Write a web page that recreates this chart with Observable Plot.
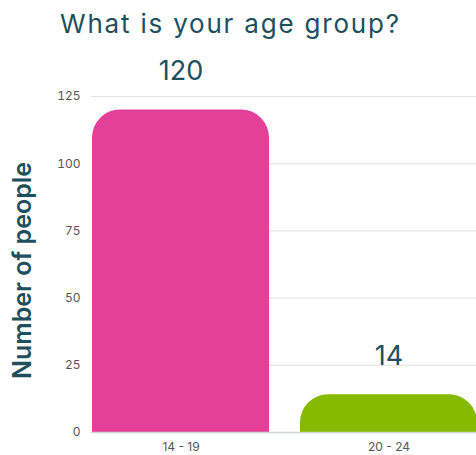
<!DOCTYPE html>
<html>
<head>
<meta charset="utf-8">
<script src="https://cdn.jsdelivr.net/npm/d3@7"></script>
<script src="https://cdn.jsdelivr.net/npm/@observablehq/plot@0.6"></script>
<style>
  html, body { margin: 0; padding: 0; background: #fff; }
  #title { height: 50px; box-sizing: border-box; padding: 8px 0 0 60px; font-family: Inter, "Open Sans", sans-serif; font-size: 26px; letter-spacing: 1.8px; color: #1d4f5d; white-space: nowrap; }
  svg { display: block; }
</style>
</head>
<body>
<div id="title">What is your age group?</div>
<div id="chart"></div>
<script>
const categories = ["14 - 19", "20 - 24"];
const counts = [120, 14];
const colors = ["#e4409a", "#85ba00"];
const yTicks = [0, 25, 50, 75, 100, 125];
const yLabel = "Number of people";

const data = categories.map((c, i) => ({category: c, count: counts[i], color: colors[i]}));

const chart = Plot.plot({
  width: 476,
  height: 405,
  marginTop: 46,
  marginBottom: 23,
  marginLeft: 91,
  marginRight: 0,
  style: {fontFamily: "Inter, 'Open Sans', sans-serif", background: "#fff"},
  x: {domain: categories, range: [91, 478], paddingInner: 0.148, paddingOuter: 0, label: null},
  y: {domain: [0, 125], label: null},
  marks: [
    Plot.ruleY(yTicks.filter(d => d > 0), {stroke: "#e2e2e2", strokeWidth: 1}),
    Plot.barY(data, {x: "category", y: "count", fill: "color", rx1y1: 28, rx2y1: 28, ry1: 28}),
    Plot.ruleY([0], {stroke: "#cdd5d8", strokeWidth: 1.5}),
    Plot.axisY({ticks: yTicks, tickSize: 0, tickPadding: 11, fontSize: 12, fill: "#555", label: null}),
    Plot.axisX({tickSize: 0, tickPadding: 10, fontSize: 12, fill: "#555", label: null}),
    Plot.text(data, {x: "category", y: "count", text: d => String(d.count), dy: -39, fontSize: 27, fill: "#1d4f5d"}),
    Plot.text([yLabel], {frameAnchor: "left", textAnchor: "middle", dx: -69, dy: 6, rotate: -90, fontSize: 25, fontWeight: 600, fill: "#1d4f5d", style: "letter-spacing: 1.5px"})
  ]
});
document.getElementById("chart").appendChild(chart);
</script>
</body>
</html>
